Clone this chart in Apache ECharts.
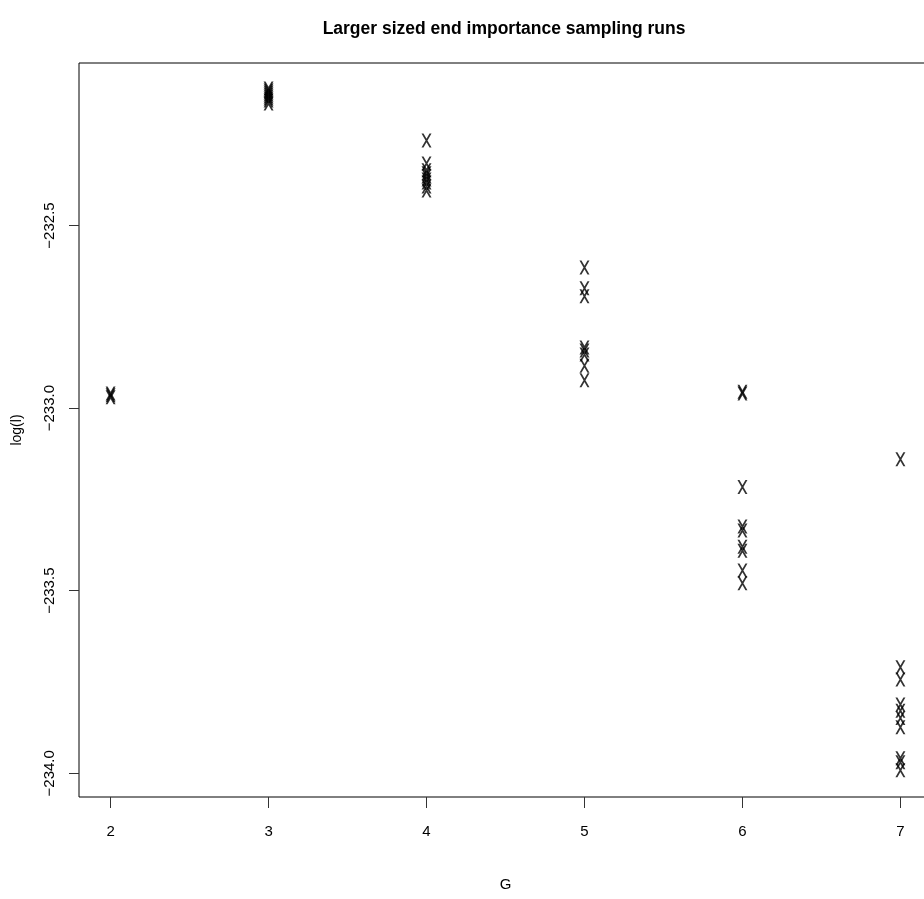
<!DOCTYPE html>
<html>
<head>
<meta charset="utf-8">
<script src="https://cdn.jsdelivr.net/npm/echarts@6/dist/echarts.min.js"></script>
<style>
  html, body { margin: 0; padding: 0; background: #fff; }
  #chart { width: 924px; height: 899px; }
</style>
</head>
<body>
<div id="chart"></div>
<script>
// G values on x, log(l) estimates per run
const g2 = [-232.960, -232.965, -232.970]
const g3 = [-232.125, -232.130, -232.136, -232.141, -232.147, -232.152, -232.158, -232.166]
const g4 = [-232.267, -232.330, -232.349, -232.357, -232.365, -232.374, -232.382, -232.393, -232.404]
const g5 = [-232.615, -232.672, -232.694, -232.834, -232.842, -232.853, -232.884, -232.924]
const g6 = [-232.955, -232.960, -233.216, -233.324, -233.335, -233.380, -233.391, -233.445, -233.480]
const g7 = [-233.140, -233.710, -233.743, -233.812, -233.829, -233.849, -233.874, -233.959, -233.970, -233.992]

const xTicks = [2, 3, 4, 5, 6, 7]
const yTicks = [-234.0, -233.5, -233.0, -232.5]

const groups = [[2, g2], [3, g3], [4, g4], [5, g5], [6, g6], [7, g7]]
const points = []
groups.forEach(([g, vals]) => vals.forEach(v => points.push([g, v])))

const font = "'Liberation Sans', Arial, sans-serif"

// "X" plotting character drawn as two thin strokes
const xMark = 'path://M0,0 L2,0 L10,14 L8,14 Z M8,0 L10,0 L2,14 L0,14 Z'

const chart = echarts.init(document.getElementById('chart'))
chart.setOption({
  backgroundColor: '#fff',
  animation: false,
  title: {
    text: 'Larger sized end importance sampling runs',
    left: 499,
    textAlign: 'center',
    top: 15,
    textStyle: { fontFamily: font, fontSize: 17.5, fontWeight: 'bold', color: '#000' }
  },
  grid: {
    left: 79, right: -8, top: 63, bottom: 102,
    outerBoundsMode: 'none',
    containLabel: false,
    show: true, borderColor: '#000', borderWidth: 1
  },
  xAxis: {
    type: 'value',
    min: 1.8, max: 7.2,
    name: 'G',
    nameLocation: 'middle',
    nameGap: 80,
    nameTextStyle: { fontFamily: font, fontSize: 15, color: '#000' },
    axisLine: { show: false },
    splitLine: { show: false },
    axisTick: { show: true, length: 11, customValues: xTicks, lineStyle: { color: '#333' } },
    axisLabel: {
      customValues: xTicks, margin: 27,
      fontFamily: font, fontSize: 15, color: '#000'
    }
  },
  yAxis: {
    type: 'value',
    min: -234.065, max: -232.055,
    name: 'log(l)',
    nameLocation: 'middle',
    nameGap: 55,
    nameRotate: 90,
    nameTextStyle: { fontFamily: font, fontSize: 14, color: '#000' },
    axisLine: { show: false },
    splitLine: { show: false },
    axisTick: { show: true, length: 10, customValues: yTicks, lineStyle: { color: '#333' } },
    axisLabel: {
      customValues: yTicks, rotate: 90, margin: 22,
      align: 'center', verticalAlign: 'bottom',
      fontFamily: font, fontSize: 15, color: '#000',
      formatter: v => (v < 0 ? '\u2212' : '') + Math.abs(v).toFixed(1)
    }
  },
  series: [{
    type: 'scatter',
    data: points,
    symbol: xMark,
    symbolSize: [10, 14],
    symbolKeepAspect: false,
    itemStyle: { color: '#000' }
  }]
})
</script>
</body>
</html>
